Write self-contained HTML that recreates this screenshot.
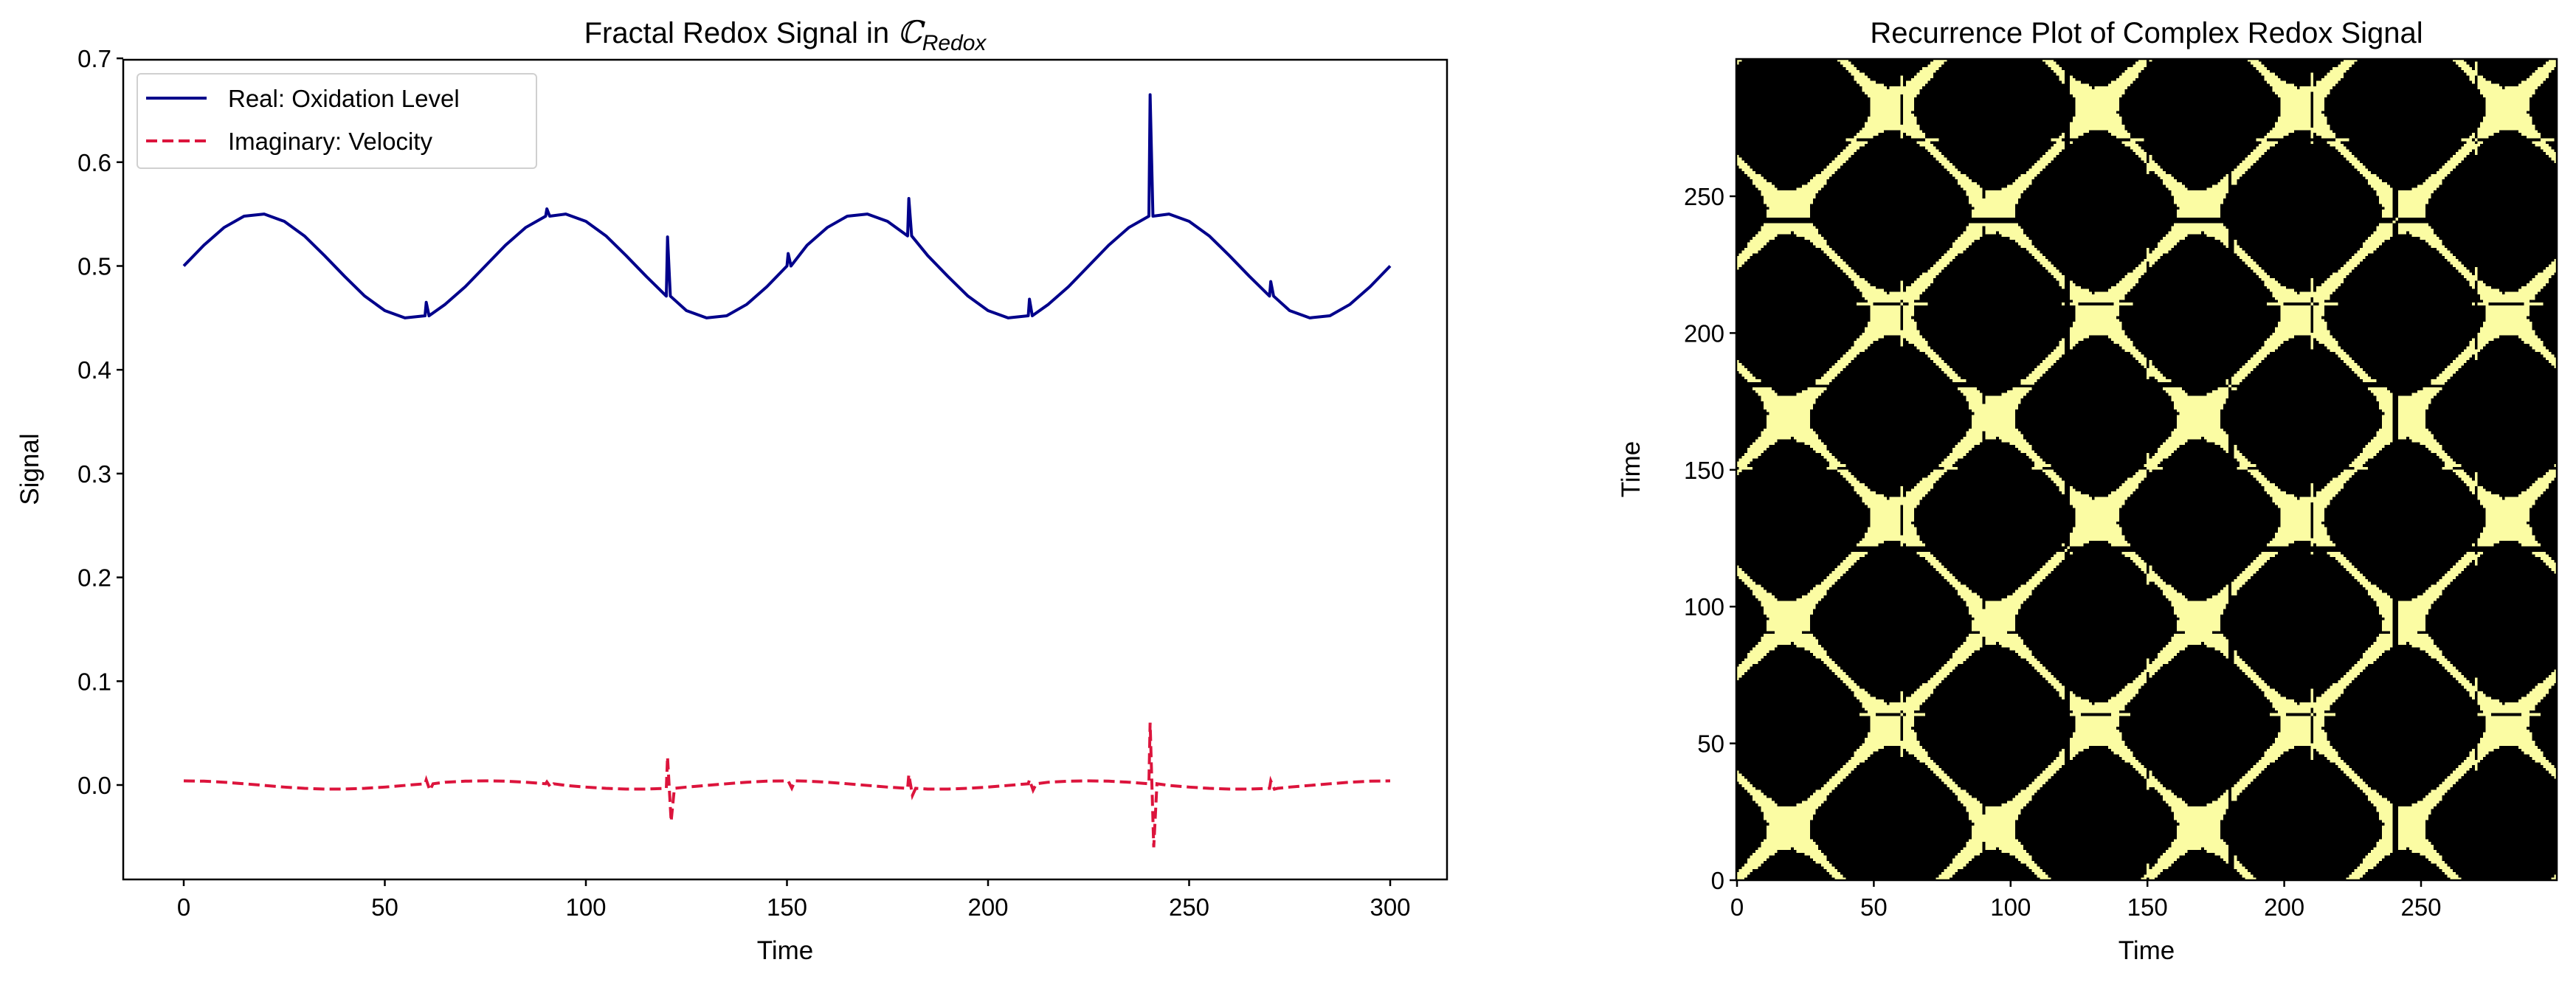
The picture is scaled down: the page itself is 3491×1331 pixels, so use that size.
<!DOCTYPE html>
<html><head><meta charset="utf-8">
<style>
html,body{margin:0;padding:0;background:#fff;}
body{width:3491px;height:1331px;position:relative;overflow:hidden;font-family:"Liberation Sans","DejaVu Sans",sans-serif;}
svg{position:absolute;left:0;top:0;}
#rp{position:absolute;left:2353px;top:80px;width:1112px;height:1113px;image-rendering:pixelated;}
</style></head>
<body>
<canvas id="rp" width="300" height="300"></canvas>
<svg id="chart" width="3491" height="1331" xmlns="http://www.w3.org/2000/svg"></svg>
<script>
// ---- data ----
const sampleTimes = [0,5,10,15,20,25,30,35,40,45,50,55,60,65,70,75,80,85,90,95,100,105,110,115,120,125,130,135,140,145,150,155,160,165,170,175,180,185,190,195,200,205,210,215,220,225,230,235,240,245,250,255,260,265,270,275,280,285,290,295,300];
const realValues = [0.500,0.520,0.537,0.548,0.550,0.543,0.529,0.510,0.490,0.471,0.457,0.450,0.452,0.463,0.480,0.500,0.520,0.537,0.548,0.550,0.543,0.529,0.510,0.490,0.471,0.457,0.450,0.452,0.463,0.480,0.500,0.520,0.537,0.548,0.550,0.543,0.529,0.510,0.490,0.471,0.457,0.450,0.452,0.463,0.480,0.500,0.520,0.537,0.548,0.550,0.543,0.529,0.510,0.490,0.471,0.457,0.450,0.452,0.463,0.480,0.500];
const imagValues = [0.004,0.0037,0.0027,0.0012,-0.0004,-0.002,-0.0032,-0.0039,-0.0039,-0.0032,-0.002,-0.0004,0.0012,0.0027,0.0037,0.004,0.0037,0.0027,0.0012,-0.0004,-0.002,-0.0032,-0.0039,-0.0039,-0.0032,-0.002,-0.0004,0.0012,0.0027,0.0037,0.004,0.0037,0.0027,0.0012,-0.0004,-0.002,-0.0032,-0.0039,-0.0039,-0.0032,-0.002,-0.0004,0.0012,0.0027,0.0037,0.004,0.0037,0.0027,0.0012,-0.0004,-0.002,-0.0032,-0.0039,-0.0039,-0.0032,-0.002,-0.0004,0.0012,0.0027,0.0037,0.004];
const spikeTimes = [60,90,120,150,180,210,240,270];
const spikeReal = [0.465,0.555,0.528,0.512,0.565,0.468,0.665,0.485];
const spikeImagUp = [0.005,0.003,0.027,0.004,0.010,0.005,0.060,0.004];
const spikeImagDown = [-0.005,-0.002,-0.035,-0.003,-0.010,-0.005,-0.060,-0.004];
const leftYTicks = [0.0,0.1,0.2,0.3,0.4,0.5,0.6,0.7];
const leftXTicks = [0,50,100,150,200,250,300];
const rpTicks = [0,50,100,150,200,250];
const recurrenceEps = 0.011;

// ---- helpers ----
const NS="http://www.w3.org/2000/svg";
const svg=document.getElementById('chart');
function mk(tag,attrs,parent){const e=document.createElementNS(NS,tag);for(const k in attrs)e.setAttribute(k,attrs[k]);(parent||svg).appendChild(e);return e;}
// left axes
const L={x0:167,x1:1961,y0:81,y1:1192};
const xL=t=>249+(t)*(272.5/50);
const yL=v=>1064-v*1407;
// right axes
const R={x0:2353,x1:3465,y0:80,y1:1193};
const xR=t=>2354+(t)*3.708;
const yR=t=>1193-(t)*3.708;

// titles
let t=mk('text',{x:1064,y:58,'font-size':40,'text-anchor':'middle',fill:'#000'});


t.innerHTML='Fractal Redox Signal in <tspan font-family="DejaVu Serif" font-style="italic" font-size="42">ℂ</tspan><tspan font-style="italic" font-size="30" dy="10">Redox</tspan>';
t=mk('text',{x:2909,y:58,'font-size':40,'text-anchor':'middle',fill:'#000'});


t.textContent='Recurrence Plot of Complex Redox Signal';

// left frame
const lf=mk('rect',{x:L.x0,y:L.y0,width:L.x1-L.x0,height:L.y1-L.y0,fill:'none',stroke:'#000','stroke-width':2.5});


leftYTicks.forEach(v=>{
  mk('line',{x1:L.x0-9,x2:L.x0,y1:yL(v),y2:yL(v),stroke:'#000','stroke-width':2.5});
  const e=mk('text',{x:L.x0-16,y:yL(v)+12,'font-size':33,'text-anchor':'end',fill:'#000'});
  
  
  e.textContent=v.toFixed(1);
});
leftXTicks.forEach(v=>{
  mk('line',{x1:xL(v),x2:xL(v),y1:L.y1,y2:L.y1+9,stroke:'#000','stroke-width':2.5});
  const e=mk('text',{x:xL(v),y:L.y1+49,'font-size':33,'text-anchor':'middle',fill:'#000'});
  
  
  e.textContent=v;
});
t=mk('text',{x:1064,y:1300,'font-size':35,'text-anchor':'middle',fill:'#000'});


t.textContent='Time';
t=mk('text',{x:52,y:636,'font-size':35,'text-anchor':'middle',fill:'#000',transform:'rotate(-90 52 636)'});


t.textContent='Signal';

// build series with spikes
function buildSeries(vals,spikeFn){
  const pts=[];
  for(let i=0;i<sampleTimes.length;i++){
    const tt=sampleTimes[i];
    pts.push([tt,vals[i]]);
    const si=spikeTimes.indexOf(tt);
    if(si>=0){spikeFn(si,tt,vals[i],pts);}
  }
  return pts;
}
const realPts=buildSeries(realValues,(si,tt,v,p)=>{p.push([tt+0.3,spikeReal[si]]);p.push([tt+1,v]);});
const imagPts=buildSeries(imagValues,(si,tt,v,p)=>{p.push([tt+0.3,spikeImagUp[si]]);p.push([tt+1.2,spikeImagDown[si]]);p.push([tt+2,v]);});
let lr=mk('polyline',{points:realPts.map(p=>xL(p[0])+','+yL(p[1])).join(' '),fill:'none',stroke:'#00008b','stroke-width':4,'stroke-linejoin':'round'});


let li=mk('polyline',{points:imagPts.map(p=>xL(p[0])+','+yL(p[1])).join(' '),fill:'none',stroke:'#dc143c','stroke-width':4,'stroke-dasharray':'15 7'});



// legend
const lg=mk('g',{});


mk('rect',{x:186,y:100,width:541,height:128,rx:5,fill:'#fff','fill-opacity':0.85,stroke:'#d0d0d0','stroke-width':2},lg);
mk('line',{x1:198,x2:280,y1:133,y2:133,stroke:'#00008b','stroke-width':4},lg);
let e=mk('text',{x:309,y:145,'font-size':33,fill:'#000'},lg);


e.textContent='Real: Oxidation Level';
mk('line',{x1:198,x2:280,y1:191,y2:191,stroke:'#dc143c','stroke-width':4,'stroke-dasharray':'15 7'},lg);
e=mk('text',{x:309,y:203,'font-size':33,fill:'#000'},lg);


e.textContent='Imaginary: Velocity';

// recurrence heatmap
(function(){
  const N=300, re=new Array(N), im=new Array(N);
  for(let i=0;i<N;i++){
    const k=Math.min(Math.floor(i/5),sampleTimes.length-2), f=(i-sampleTimes[k])/5;
    re[i]=realValues[k]*(1-f)+realValues[k+1]*f;
    im[i]=imagValues[k]*(1-f)+imagValues[k+1]*f;
  }
  spikeTimes.forEach((st,s)=>{if(st<N){re[st]=spikeReal[s];im[st]=spikeImagUp[s];if(st+1<N)im[st+1]=spikeImagDown[s];}});
  const c=document.getElementById('rp').getContext('2d');
  const img=c.createImageData(N,N);
  for(let r=0;r<N;r++){const j=N-1-r;for(let i=0;i<N;i++){
    const d=Math.hypot(re[i]-re[j],im[i]-im[j]);const o=(r*N+i)*4;
    if(d<recurrenceEps){img.data[o]=251;img.data[o+1]=252;img.data[o+2]=163;}
    img.data[o+3]=255;}}
  c.putImageData(img,0,0);
})();
const rf=mk('rect',{x:R.x0,y:R.y0,width:R.x1-R.x0,height:R.y1-R.y0,fill:'none',stroke:'#000','stroke-width':2.5});


rpTicks.forEach(v=>{
  mk('line',{x1:xR(v),x2:xR(v),y1:R.y1,y2:R.y1+9,stroke:'#000','stroke-width':2.5});
  let e=mk('text',{x:xR(v),y:R.y1+48,'font-size':33,'text-anchor':'middle',fill:'#000'});
  
  
  e.textContent=v;
  mk('line',{x1:R.x0-9,x2:R.x0,y1:yR(v),y2:yR(v),stroke:'#000','stroke-width':2.5});
  e=mk('text',{x:R.x0-16,y:yR(v)+12,'font-size':33,'text-anchor':'end',fill:'#000'});
  
  
  e.textContent=v;
});
t=mk('text',{x:2909,y:1300,'font-size':35,'text-anchor':'middle',fill:'#000'});


t.textContent='Time';
t=mk('text',{x:2222,y:636,'font-size':35,'text-anchor':'middle',fill:'#000',transform:'rotate(-90 2222 636)'});


t.textContent='Time';
</script>
</body></html>
